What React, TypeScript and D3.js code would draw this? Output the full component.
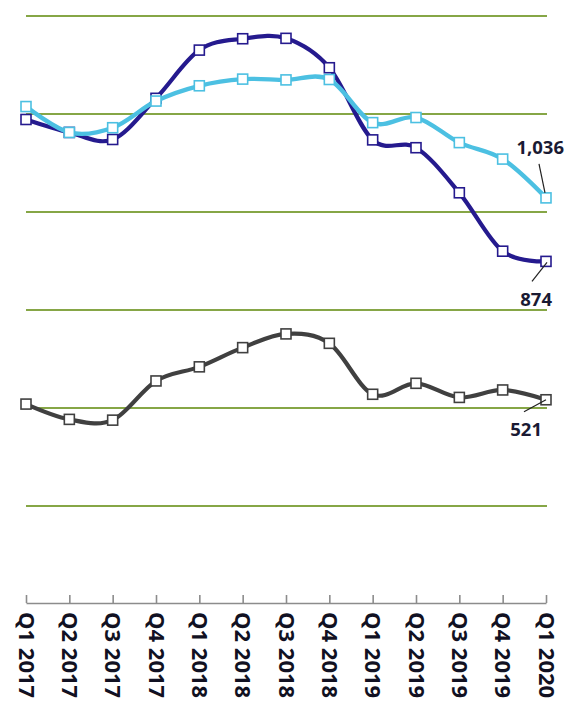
import * as d3 from "d3";
import { useEffect, useRef } from "react";

// quarters along the bottom axis
const quarters = [
  "Q1 2017", "Q2 2017", "Q3 2017", "Q4 2017",
  "Q1 2018", "Q2 2018", "Q3 2018", "Q4 2018",
  "Q1 2019", "Q2 2019", "Q3 2019", "Q4 2019",
  "Q1 2020",
];

// values
const navySeries = [1236, 1203, 1185, 1290, 1413, 1442, 1443, 1368, 1184, 1164, 1049, 900, 874];
const skySeries = [1269, 1203, 1215, 1283, 1322, 1339, 1337, 1338, 1228, 1241, 1177, 1135, 1036];
const greySeries = [510, 471, 469, 569, 605, 654, 689, 665, 535, 563, 527, 546, 521];

const gridValues = [250, 500, 750, 1000, 1250, 1500];

const App = () => {
  const svgRef = useRef<SVGSVGElement>(null);

  useEffect(() => {
    const w = 566;
    const h = 703;
    const svg = d3.select(svgRef.current).attr("width", w).attr("height", h);
    svg.selectAll("*").remove();

    const x = d3.scalePoint<string>().domain(quarters).range([26, 546]);
    const y = d3.scaleLinear().domain([0, 1500]).range([604, 16]);

    // gridlines
    svg
      .append("g")
      .selectAll("line")
      .data(gridValues)
      .join("line")
      .attr("x1", 26)
      .attr("x2", 547)
      .attr("y1", (d) => y(d))
      .attr("y2", (d) => y(d))
      .attr("stroke", "#86a646")
      .attr("stroke-width", 2);

    // bottom axis, ticks pointing up
    const xAxis = d3.axisBottom(x).tickSizeInner(-8).tickSizeOuter(0);
    const ax = svg.append("g").attr("transform", `translate(0, ${y(0) - 1})`).call(xAxis);
    ax.select(".domain").attr("stroke", "#8c8c8c").attr("stroke-width", 1.6);
    ax.selectAll(".tick line").attr("stroke", "#8c8c8c").attr("stroke-width", 1.6);
    ax.selectAll(".tick text")
      .attr("transform", "rotate(90)")
      .attr("x", 9)
      .attr("y", 0)
      .attr("dy", "0.36em")
      .style("text-anchor", "start")
      .style("font-family", "'Open Sans', sans-serif")
      .style("font-weight", 700)
      .style("font-size", "22px")
      .attr("fill", "#111122");

    const line = d3
      .line<number>()
      .x((d, i) => x(quarters[i]) as number)
      .y((d) => y(d))
      .curve(d3.curveCardinal.tension(0));

    const series = [
      { data: navySeries, color: "#251a8e", width: 4.2 },
      { data: skySeries, color: "#4cc0e2", width: 4.4 },
      { data: greySeries, color: "#404040", width: 4.2 },
    ];

    series.forEach((s) => {
      svg
        .append("path")
        .datum(s.data)
        .attr("d", line)
        .attr("fill", "none")
        .attr("stroke", s.color)
        .attr("stroke-width", s.width)
        .attr("stroke-linejoin", "round");
      svg
        .append("g")
        .selectAll("rect")
        .data(s.data)
        .join("rect")
        .attr("x", (d, i) => (x(quarters[i]) as number) - 5)
        .attr("y", (d) => y(d) - 5)
        .attr("width", 10)
        .attr("height", 10)
        .attr("fill", "white")
        .attr("stroke", s.color)
        .attr("stroke-width", 1.6);
    });

    // last-point labels with leader lines
    const last = quarters.length - 1;
    const fmt = d3.format(",");
    const labels = [
      { data: skySeries, dx: 18, dy: -44, lx1: -1, ly1: -5, lx2: -7, ly2: -34 },
      { data: navySeries, dx: 6, dy: 45, lx1: 1, ly1: 1, lx2: -14, ly2: 20 },
      { data: greySeries, dx: -4, dy: 36, lx1: 0, ly1: 0, lx2: -22, ly2: 12 },
    ];
    labels.forEach((l) => {
      const px = x(quarters[last]) as number;
      const py = y(l.data[last]);
      svg
        .append("line")
        .attr("x1", px + l.lx1)
        .attr("y1", py + l.ly1)
        .attr("x2", px + l.lx2)
        .attr("y2", py + l.ly2)
        .attr("stroke", "#222")
        .attr("stroke-width", 1.2);
      svg
        .append("text")
        .attr("x", px + l.dx)
        .attr("y", py + l.dy)
        .attr("text-anchor", "end")
        .style("font-family", "'Open Sans', sans-serif")
        .style("font-weight", 700)
        .style("font-size", "18.5px")
        .attr("fill", "#1a1a33")
        .text(fmt(l.data[last]));
    });
  }, []);

  return (
    <svg
      ref={svgRef}
      style={{ position: "absolute", left: 0, top: 0, background: "white" }}
    ></svg>
  );
};

export default App;
